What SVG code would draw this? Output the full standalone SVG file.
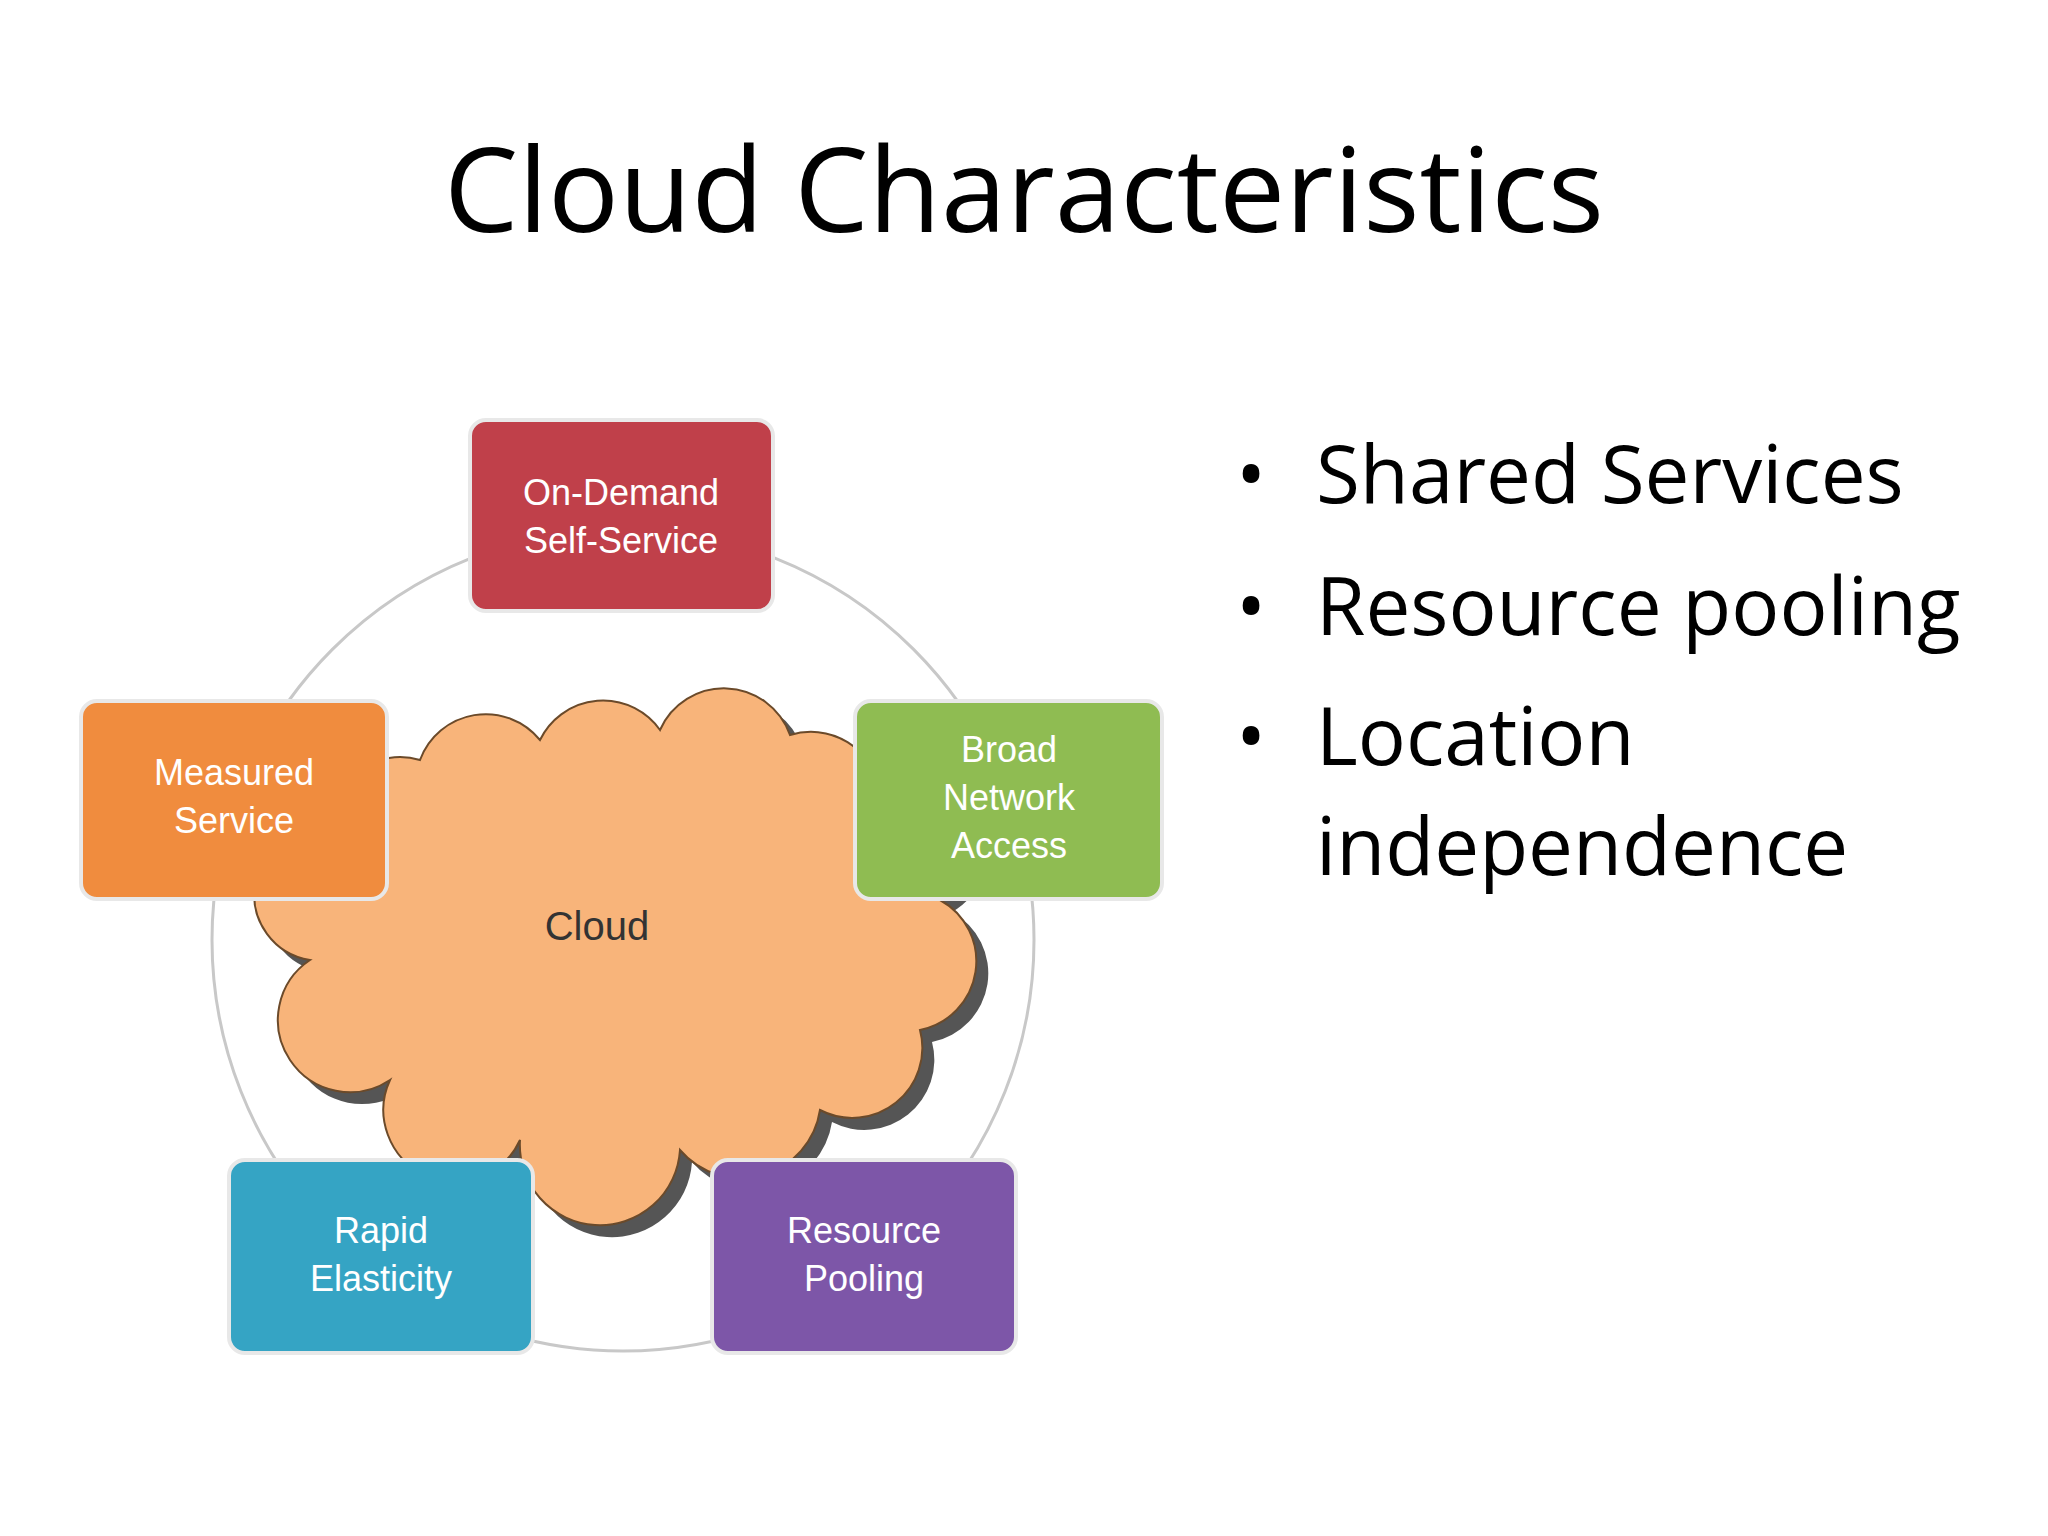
<svg xmlns="http://www.w3.org/2000/svg" width="2048" height="1536" viewBox="0 0 2048 1536">
<style>
.box{stroke:#e8e8e8;stroke-width:4}
.bt{font-family:"Liberation Sans",Arial,sans-serif;font-size:36px;fill:#fff;text-anchor:middle}
.bl{font-family:"Open Sans","Liberation Sans",sans-serif;font-size:80px;fill:#000}
</style>
<rect width="2048" height="1536" fill="#fff"/>
<text x="1024" y="232" text-anchor="middle" font-family="Open Sans, Liberation Sans, sans-serif" font-size="118" fill="#000">Cloud Characteristics</text>
<g id="connectors"><circle cx="623" cy="940" r="411" fill="none" stroke="#c8c8c8" stroke-width="3"/></g>
<g id="cloud">
<path transform="translate(12,12)" fill="#555" d="M310 960 A60 60 0 0 1 330 830 A70 70 0 0 1 420 760 A70 70 0 0 1 540 740 A70 70 0 0 1 660 730 A70 70 0 0 1 790 735 A70 70 0 0 1 880 790 A60 60 0 0 1 940 900 A70 70 0 0 1 920 1030 A70 70 0 0 1 820 1110 A80 80 0 0 1 680 1150 A80 80 0 0 1 520 1140 A70 70 0 0 1 390 1080 A70 70 0 0 1 310 960 Z"/>
<path fill="#f8b47a" stroke="#6b4a2a" stroke-width="2" d="M310 960 A60 60 0 0 1 330 830 A70 70 0 0 1 420 760 A70 70 0 0 1 540 740 A70 70 0 0 1 660 730 A70 70 0 0 1 790 735 A70 70 0 0 1 880 790 A60 60 0 0 1 940 900 A70 70 0 0 1 920 1030 A70 70 0 0 1 820 1110 A80 80 0 0 1 680 1150 A80 80 0 0 1 520 1140 A70 70 0 0 1 390 1080 A70 70 0 0 1 310 960 Z"/>
<text x="597" y="940" text-anchor="middle" font-family="Liberation Sans, sans-serif" font-size="40" fill="#333">Cloud</text>
</g>
<g id="ondemand"><rect class="box" x="470" y="420" width="303" height="191" rx="16" fill="#c0404a"/><text class="bt" x="621" y="505">On-Demand</text><text class="bt" x="621" y="553">Self-Service</text></g>
<g id="measured"><rect class="box" x="81" y="701" width="306" height="198" rx="16" fill="#f08c3e"/><text class="bt" x="234" y="785">Measured</text><text class="bt" x="234" y="833">Service</text></g>
<g id="broad"><rect class="box" x="855" y="701" width="307" height="198" rx="16" fill="#8fbc52"/><text class="bt" x="1009" y="762">Broad</text><text class="bt" x="1009" y="810">Network</text><text class="bt" x="1009" y="858">Access</text></g>
<g id="rapid"><rect class="box" x="229" y="1160" width="304" height="193" rx="16" fill="#35a4c4"/><text class="bt" x="381" y="1243">Rapid</text><text class="bt" x="381" y="1291">Elasticity</text></g>
<g id="pooling"><rect class="box" x="712" y="1160" width="304" height="193" rx="16" fill="#7d56a8"/><text class="bt" x="864" y="1243">Resource</text><text class="bt" x="864" y="1291">Pooling</text></g>
<g id="bullets">
<text class="bl" x="1236" y="503">•</text><text class="bl" x="1316" y="503">Shared Services</text>
<text class="bl" x="1236" y="635">•</text><text class="bl" x="1316" y="635">Resource pooling</text>
<text class="bl" x="1236" y="765">•</text><text class="bl" x="1316" y="765">Location</text>
<text class="bl" x="1316" y="875">independence</text>
</g>
</svg>
